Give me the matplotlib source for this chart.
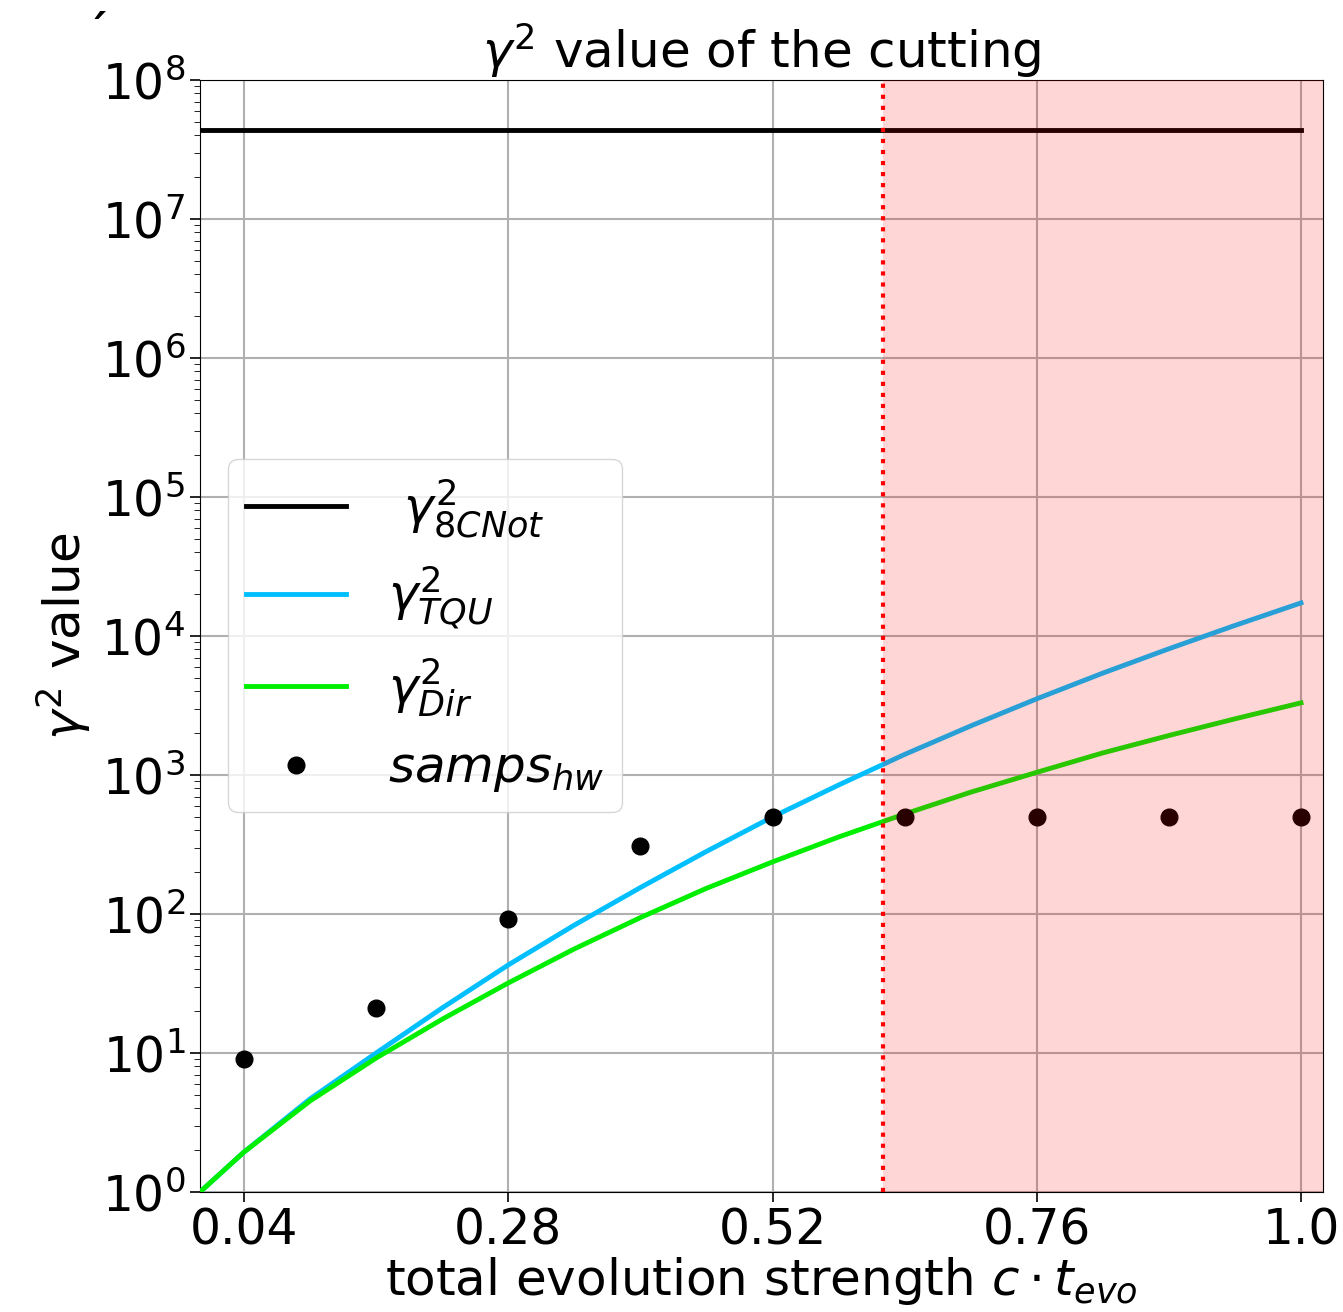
import matplotlib
matplotlib.use("Agg")
import matplotlib.pyplot as plt
import numpy as np

# ---- data ----
x_curve = [0.0, 0.04, 0.10, 0.16, 0.22, 0.28, 0.34, 0.40, 0.46, 0.52, 0.58,
           0.64, 0.70, 0.76, 0.82, 0.88, 0.94, 1.0]
gamma_tqu = [1.0, 1.94, 4.68, 10.0, 21.1, 43, 83.2, 155, 282, 499, 847,
             1406, 2254, 3532, 5408, 8091, 11912, 17298]
gamma_dir = [1.0, 1.94, 4.52, 9.2, 17.5, 31.9, 56.1, 94.2, 153, 237, 358,
             524, 752, 1045, 1442, 1923, 2535, 3304]
x_cnot = [0.0, 1.0]
gamma_8cnot = [4.37e7, 4.37e7]
x_samps = [0.04, 0.16, 0.28, 0.40, 0.52, 0.64, 0.76, 0.88, 1.0]
samps_hw = [9.1, 21, 92, 308, 500, 500, 500, 500, 500]
cut_x = 0.62
x_ticks = [0.04, 0.28, 0.52, 0.76, 1.0]
x_ticklabels = ["0.04", "0.28", "0.52", "0.76", "1.0"]

fig = plt.figure(figsize=(13.43, 13.12), dpi=100)
ax = fig.add_axes([200/1343, 1 - 1192/1312, 1123/1343, 1112/1312])

ax.plot(x_cnot, gamma_8cnot, color="black", lw=3.5, label=r" $\gamma^2_{8CNot}$", zorder=3)
ax.plot(x_curve, gamma_tqu, color="#00BFFF", lw=3.5, label=r"$\gamma^2_{TQU}$", zorder=3)
ax.plot(x_curve, gamma_dir, color="#00EE00", lw=3.5, label=r"$\gamma^2_{Dir}$", zorder=3)
ax.plot(x_samps, samps_hw, "o", color="black", ms=12, label=r"$samps_{hw}$", zorder=3)

ax.axvline(cut_x, color="red", ls=":", lw=3, zorder=4)
ax.axvspan(cut_x, 1.02, color="red", alpha=0.16, lw=0, zorder=5)

ax.set_yscale("log")
ax.set_ylim(1, 1e8)
ax.set_xlim(0, 1.02)
ax.set_xticks(x_ticks)
ax.set_xticklabels(x_ticklabels)
ax.grid(True, which="major", color="#b0b0b0", lw=1.5)
ax.tick_params(axis="both", which="major", labelsize=35, length=7, width=1.2)
ax.tick_params(axis="y", which="minor", length=4)

ax.set_title(r"$\gamma^2$ value of the cutting", fontsize=36, pad=8)
ax.set_xlabel(r"total evolution strength $c \cdot t_{evo}$", fontsize=36, labelpad=0)
ax.set_ylabel(r"$\gamma^2$ value", fontsize=36, labelpad=6)

leg = ax.legend(loc="lower left", bbox_to_anchor=(0.025, 0.342), borderaxespad=0,
                fontsize=36, frameon=True, framealpha=0.8, borderpad=0.35,
                labelspacing=0.5, handletextpad=0.85)

fig.text(97/1343, 1 - 33/1312, "\u02ca", fontsize=30, ha="center", va="center",
         fontweight="bold")

fig.savefig("out.png", dpi=100)
